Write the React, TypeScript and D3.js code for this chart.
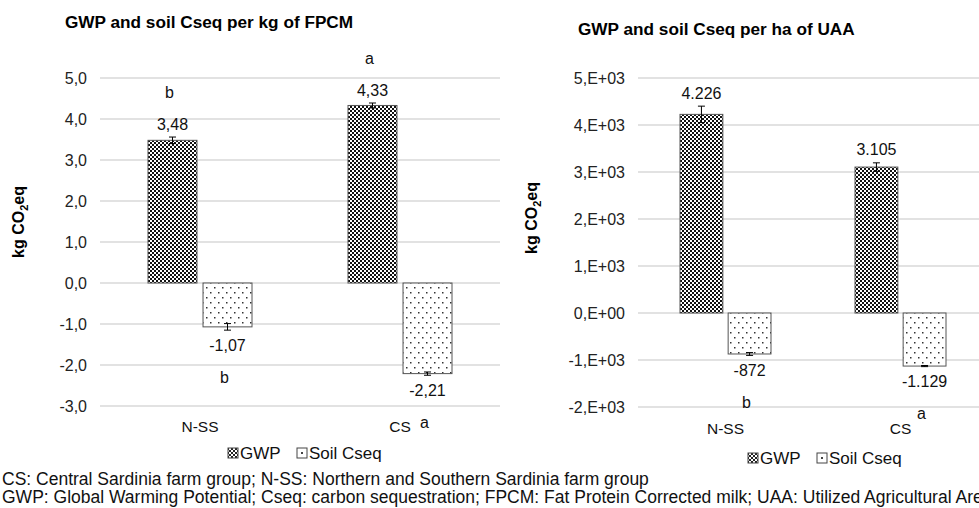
import React from "react";
import * as d3 from "d3";

const categories = ["N-SS", "CS"];
const seriesNames = ["GWP", "Soil Cseq"];

// per kg of FPCM
const fpcmGwp = [3.48, 4.33];
const fpcmGwpErr = [0.08, 0.06];
const fpcmCseq = [-1.07, -2.21];
const fpcmCseqErr = [0.08, 0.04];
const fpcmTicks = [-3, -2, -1, 0, 1, 2, 3, 4, 5];
const fpcmGwpLetters = ["b", "a"];
const fpcmCseqLetters = ["b", "a"];

// per ha of UAA
const uaaGwp = [4226, 3105];
const uaaGwpErr = [175, 90];
const uaaCseq = [-872, -1129];
const uaaCseqErr = [30, 12];
const uaaTicks = [-2000, -1000, 0, 1000, 2000, 3000, 4000, 5000];
const uaaGwpLetters = ["", ""];
const uaaCseqLetters = ["b", "a"];

const footnotes = [
  "CS: Central Sardinia farm group; N-SS: Northern and Southern Sardinia farm group",
  "GWP: Global Warming Potential; Cseq: carbon sequestration; FPCM: Fat Protein Corrected milk; UAA: Utilized Agricultural Area",
];

const FONT = "'Liberation Sans', Arial, sans-serif";
const it = d3.formatLocale({ decimal: ",", thousands: ".", grouping: [3], currency: ["", "€"], minus: "-" });
const fmt2 = it.format(".2f");
const fmtInt = it.format(",d");
const fmt1 = it.format(".1f");
const fmtExp = (v: number) => (v === 0 ? "0,E+00" : `${v / 1000},E+03`);

interface PanelProps {
  title: string;
  titleX: number;
  titleY: number;
  x0: number;
  x1: number;
  yTop: number;
  yBottom: number;
  ticks: number[];
  tickFmt: (v: number) => string;
  valFmt: (v: number) => string;
  gwp: number[];
  gwpErr: number[];
  cseq: number[];
  cseqErr: number[];
  gwpLetters: string[];
  cseqLetters: string[];
  yLabelX: number;
  yLabelY: number;
  legendX: number;
  legendY: number;
  catY: number;
}

function Panel(p: PanelProps) {
  const y = d3.scaleLinear().domain([p.ticks[0], p.ticks[p.ticks.length - 1]]).range([p.yBottom, p.yTop]);
  const x = d3.scaleBand().domain(categories).range([p.x0, p.x1]);
  const gw = x.bandwidth() * 0.52;
  const xs = d3.scaleBand().domain(seriesNames).range([0, gw]).paddingInner(0.11);
  const bw = xs.bandwidth();
  const vals = [p.gwp, p.cseq];
  const errs = [p.gwpErr, p.cseqErr];
  const letters = [p.gwpLetters, p.cseqLetters];
  const fills = ["url(#checker)", "url(#dots)"];

  return (
    <g fontFamily={FONT}>
      <text x={p.titleX} y={p.titleY} fontSize={17.2} fontWeight="bold" fill="#000">{p.title}</text>
      {p.ticks.map((t) => (
        <g key={t}>
          <line x1={p.x0} x2={p.x1} y1={y(t)} y2={y(t)} stroke="#d9d9d9" strokeWidth={1.5} />
          <text x={p.x0 - 13} y={y(t)} dy="0.35em" textAnchor="end" fontSize={16} fill="#222">{p.tickFmt(t)}</text>
        </g>
      ))}
      <text transform={`translate(${p.yLabelX},${p.yLabelY}) rotate(-90)`} textAnchor="middle" fontSize={16} fontWeight="bold" fill="#000">
        kg CO<tspan fontSize={11} dy={4}>2</tspan><tspan dy={-4}>eq</tspan>
      </text>
      {categories.map((c, ci) => (
        <g key={c}>
          {seriesNames.map((s, si) => {
            const v = vals[si][ci];
            const e = errs[si][ci];
            const bx = (x(c) as number) + (x.bandwidth() - gw) / 2 + (xs(s) as number);
            const cx = bx + bw / 2;
            const top = y(Math.max(0, v));
            const bot = y(Math.min(0, v));
            const eA = y(v + e);
            const eB = y(v - e);
            const labY = v >= 0 ? eA - 13 : eB + 15;
            const letY = v >= 0 ? labY - 32 : labY + 32;
            return (
              <g key={s}>
                <rect x={bx} y={top} width={bw} height={bot - top} fill={fills[si]} stroke="#555" strokeWidth={1} />
                <line x1={cx} x2={cx} y1={eA} y2={eB} stroke="#000" strokeWidth={1} />
                <line x1={cx - 3.5} x2={cx + 3.5} y1={eA} y2={eA} stroke="#000" strokeWidth={1} />
                <line x1={cx - 3.5} x2={cx + 3.5} y1={eB} y2={eB} stroke="#000" strokeWidth={1} />
                <text x={cx} y={labY} dy="0.35em" textAnchor="middle" fontSize={16} fill="#111">{p.valFmt(v)}</text>
                {letters[si][ci] && (
                  <text x={cx - 3} y={letY} dy="0.35em" textAnchor="middle" fontSize={16} fill="#111">{letters[si][ci]}</text>
                )}
              </g>
            );
          })}
          <text x={(x(c) as number) + x.bandwidth() / 2} y={p.catY} dy="0.35em" textAnchor="middle" fontSize={15.5} fill="#111">{c}</text>
        </g>
      ))}
      <g transform={`translate(${p.legendX},${p.legendY})`}>
        <rect x={0} y={-5} width={10} height={10} fill="url(#checkerIcon)" stroke="#444" strokeWidth={1} />
        <text x={12} y={0} dy="0.35em" fontSize={17} fill="#111">{seriesNames[0]}</text>
        <rect x={69} y={-5} width={10} height={10} fill="#fff" stroke="#444" strokeWidth={1} />
        <rect x={73} y={-1} width={2} height={2} fill="#444" />
        <text x={81} y={0} dy="0.35em" fontSize={17} fill="#111">{seriesNames[1]}</text>
      </g>
    </g>
  );
}

export default function App() {
  return (
    <svg width={979} height={508} style={{ position: "absolute", left: 0, top: 0, background: "#fff" }}>
      <defs>
        <pattern id="checker" width={4} height={4} patternUnits="userSpaceOnUse">
          <rect width={4} height={4} fill="#fff" />
          <rect width={2} height={2} fill="#111" />
          <rect x={2} y={2} width={2} height={2} fill="#111" />
        </pattern>
        <pattern id="checkerIcon" width={4} height={4} patternUnits="userSpaceOnUse" x={1} y={1}>
          <rect width={4} height={4} fill="#fff" />
          <rect width={2} height={2} fill="#222" />
          <rect x={2} y={2} width={2} height={2} fill="#222" />
        </pattern>
        <pattern id="dots" width={8} height={10} patternUnits="userSpaceOnUse">
          <rect width={8} height={10} fill="#fff" />
          <rect x={2} y={2} width={1.5} height={1.5} fill="#333" />
          <rect x={6} y={7} width={1.5} height={1.5} fill="#333" />
        </pattern>
      </defs>
      <Panel
        title="GWP and soil Cseq per kg of FPCM"
        titleX={65} titleY={28}
        x0={100} x1={500} yTop={78} yBottom={406}
        ticks={fpcmTicks} tickFmt={fmt1} valFmt={fmt2}
        gwp={fpcmGwp} gwpErr={fpcmGwpErr} cseq={fpcmCseq} cseqErr={fpcmCseqErr}
        gwpLetters={fpcmGwpLetters} cseqLetters={fpcmCseqLetters}
        yLabelX={24} yLabelY={222}
        legendX={228} legendY={453} catY={427}
      />
      <Panel
        title="GWP and soil Cseq per ha of UAA"
        titleX={578} titleY={35}
        x0={638} x1={988} yTop={78} yBottom={407}
        ticks={uaaTicks} tickFmt={fmtExp} valFmt={fmtInt}
        gwp={uaaGwp} gwpErr={uaaGwpErr} cseq={uaaCseq} cseqErr={uaaCseqErr}
        gwpLetters={uaaGwpLetters} cseqLetters={uaaCseqLetters}
        yLabelX={537} yLabelY={218}
        legendX={748} legendY={458} catY={429}
      />
      {footnotes.map((f, i) => (
        <text key={i} x={2} y={485 + i * 18} fontFamily={FONT} fontSize={17.5} fill="#111">{f}</text>
      ))}
    </svg>
  );
}
